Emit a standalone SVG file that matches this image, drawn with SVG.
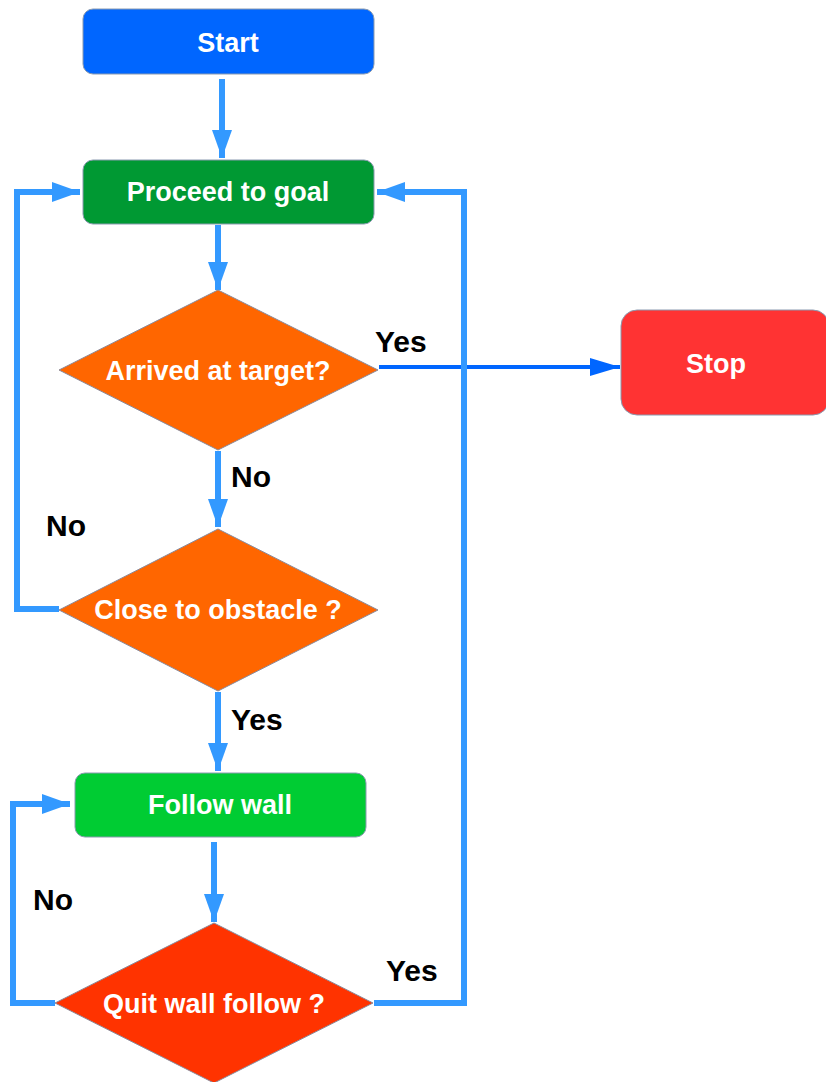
<svg xmlns="http://www.w3.org/2000/svg" width="826" height="1082" viewBox="0 0 826 1082">
<style>
.box{stroke:#8a9ab0;stroke-width:1}
.dia{stroke:#8a8a9a;stroke-width:1}
.nt{font-family:"Liberation Sans",Arial,sans-serif;font-weight:bold;font-size:27px;fill:#ffffff;text-anchor:middle}
.lbl{font-family:"Liberation Sans",Arial,sans-serif;font-weight:bold;font-size:30px;fill:#000000}
.c{fill:none;stroke:#3399ff;stroke-width:6}
.cd{fill:none;stroke:#0066ff;stroke-width:4}
</style>
<defs>
<marker id="ah" markerUnits="userSpaceOnUse" viewBox="0 0 28 20" refX="28" refY="10" markerWidth="28" markerHeight="20" orient="auto">
<path d="M0,0 L28,10 L0,20 Z" fill="#3399ff"/>
</marker>
<marker id="ahd" markerUnits="userSpaceOnUse" viewBox="0 0 30 18" refX="30" refY="9" markerWidth="30" markerHeight="18" orient="auto">
<path d="M0,0 L30,9 L0,18 Z" fill="#0066ff"/>
</marker>
</defs>
<rect width="826" height="1082" fill="#ffffff"/>
<g id="connectors">
<path class="c" d="M222,79 L222,158" marker-end="url(#ah)"/>
<path class="c" d="M218,225 L218,290" marker-end="url(#ah)"/>
<path class="cd" d="M379,367 L620,367" marker-end="url(#ahd)"/>
<path class="c" d="M218,451 L218,527" marker-end="url(#ah)"/>
<path class="c" d="M59,609 L17,609 L17,192 L80,192" marker-end="url(#ah)"/>
<path class="c" d="M218,692 L218,771" marker-end="url(#ah)"/>
<path class="c" d="M214,842 L214,922" marker-end="url(#ah)"/>
<path class="c" d="M55,1003 L13,1003 L13,804 L70,804" marker-end="url(#ah)"/>
<path class="c" d="M374,1003 L464,1003 L464,192 L377,192" marker-end="url(#ah)"/>
<text class="lbl" x="375" y="352">Yes</text>
<text class="lbl" x="231" y="487">No</text>
<text class="lbl" x="46" y="536">No</text>
<text class="lbl" x="231" y="730">Yes</text>
<text class="lbl" x="33" y="910">No</text>
<text class="lbl" x="386" y="981">Yes</text>
</g>
<g id="start">
<rect class="box" x="83" y="9" width="291" height="65" rx="10" fill="#0066ff"/>
<text class="nt" x="228" y="52">Start</text>
</g>
<g id="proceed">
<rect class="box" x="83" y="160" width="291" height="64" rx="10" fill="#009933"/>
<text class="nt" x="228" y="201">Proceed to goal</text>
</g>
<g id="arrived">
<polygon class="dia" points="218,290 378,370 218,450 59,370" fill="#ff6600"/>
<text class="nt" x="218" y="380">Arrived at target?</text>
</g>
<g id="stop">
<rect class="box" x="621" y="310" width="208" height="105" rx="16" fill="#ff3333"/>
<text class="nt" x="716" y="373">Stop</text>
</g>
<g id="close">
<polygon class="dia" points="218,529 378,610 218,691 59,610" fill="#ff6600"/>
<text class="nt" x="218" y="619">Close to obstacle ?</text>
</g>
<g id="follow">
<rect class="box" x="75" y="773" width="291" height="64" rx="10" fill="#00cc33"/>
<text class="nt" x="220" y="814">Follow wall</text>
</g>
<g id="quit">
<polygon class="dia" points="214,923 373,1003 214,1083 55,1003" fill="#ff3300"/>
<text class="nt" x="214" y="1013">Quit wall follow ?</text>
</g>
</svg>
